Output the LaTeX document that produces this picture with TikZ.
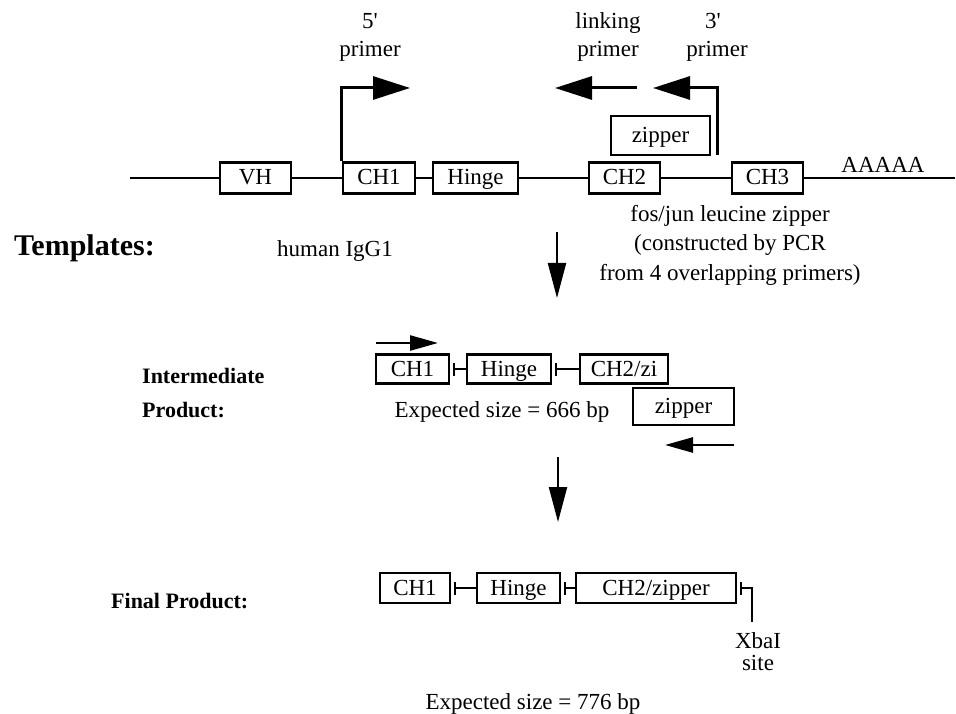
\documentclass[tikz,border=0pt]{standalone}
\usepackage{fontspec}
\setmainfont{Liberation Serif}
\usetikzlibrary{arrows.meta,positioning}
\tikzset{
  genebox/.style={
    draw,
    line width=2.8pt,
    inner sep=0pt,
    minimum height=31pt,
    text height=16pt,
    text depth=2pt,
    font=\fontsize{23}{26}\selectfont
  },
  lbl/.style={inner sep=0pt,font=\fontsize{23}{26}\selectfont},
  headlbl/.style={inner sep=0pt,font=\fontsize{22}{26}\selectfont\bfseries},
  dnaline/.style={line width=2pt},
  linker/.style={line width=2pt,{Bar[width=13pt]}-,shorten <=3pt},
  primerarrow/.style={-{Triangle[length=37pt,width=23pt]},line width=3pt},
  smallprimer/.style={-{Triangle[length=28pt,width=15pt]},line width=2.6pt},
  steparrow/.style={-{Triangle[length=35pt,width=18pt]},line width=2.2pt}
}

\begin{document}
\begin{tikzpicture}[x=1pt,y=-1pt]
  \useasboundingbox (0,0) rectangle (956,714);
  % templates
  \coordinate (lstart) at (130,178);
  \coordinate (lend) at (955,178);
  \node[genebox,minimum width=71pt] (vh) at (255.5,178) {VH};
  \node[genebox,minimum width=72pt] (ch1) at (379,178) {CH1};
  \node[genebox,minimum width=85pt] (hinge) at (475.5,178) {Hinge};
  \node[genebox,minimum width=71pt] (ch2) at (624.5,178) {CH2};
  \node[genebox,minimum width=71pt] (ch3) at (767.5,178) {CH3};
  \node[genebox,minimum width=99pt,minimum height=39pt] (zip) at (660.5,135.5) {zipper};
  \draw[dnaline] (lstart) -- (vh) (vh) -- (ch1) (ch1) -- (hinge)
    (hinge) -- (ch2) (ch2) -- (ch3) (ch3) -- (lend);
  \node[lbl,anchor=base] (polya) at (883,173) {AAAAA};

  % primers
  \coordinate (p5tip) at (410,88);
  \coordinate (p3foot) at (717,155);
  \coordinate (p3tip) at (653,88);
  \coordinate (lkfoot) at (637,88);
  \coordinate (lktip) at (555,88);
  \draw[primerarrow] (ch1.north west) |- (p5tip);
  \draw[primerarrow] (lkfoot) -- (lktip);
  \draw[primerarrow] (p3foot) |- (p3tip);
  \node[lbl,anchor=base] (p5a) at (370,29) {5\textquotesingle};
  \node[lbl,anchor=base] (p5b) at (370,57) {primer};
  \node[lbl,anchor=base] (lka) at (608,29) {linking};
  \node[lbl,anchor=base] (lkb) at (608,57) {primer};
  \node[lbl,anchor=base] (p3a) at (713,29) {3\textquotesingle};
  \node[lbl,anchor=base] (p3b) at (717,57) {primer};

  \node[anchor=base west,inner sep=0pt,font=\fontsize{30}{34}\selectfont\bfseries]
    (templ) at (14,255) {Templates:};
  \node[lbl,anchor=base] (igg) at (335,257) {human IgG1};
  \node[lbl,anchor=base] (fos1) at (730,222) {fos/jun leucine zipper};
  \node[lbl,anchor=base] (fos2) at (730,251) {(constructed by PCR};
  \node[lbl,anchor=base] (fos3) at (730,280) {from 4 overlapping primers)};

  \coordinate (d1a) at (557,232);
  \coordinate (d1b) at (557,298);
  \draw[steparrow] (d1a) -- (d1b);

  % intermediate product
  \node[headlbl,anchor=base west] (inta) at (142,383) {Intermediate};
  \node[headlbl,anchor=base west] (intb) at (142,417) {Product:};
  \node[genebox,minimum width=73pt,minimum height=29pt] (ich1) at (412.5,369) {CH1};
  \node[genebox,minimum width=84pt,minimum height=29pt] (ihinge) at (509,369) {Hinge};
  \node[genebox,minimum width=88pt,minimum height=29pt] (ich2) at (624,369) {CH2/zi};
  \draw[linker] (ich1) -- (ihinge);
  \draw[linker] (ihinge) -- (ich2);
  \node[genebox,minimum width=101pt,minimum height=37pt] (izip) at (683.5,406.5) {zipper};
  \node[lbl,anchor=base] (isize) at (502,417) {Expected size = 666 bp};
  \coordinate (ifwd0) at (376,343);
  \coordinate (ifwd1) at (438,343);
  \coordinate (irev0) at (734,445);
  \coordinate (irev1) at (665,445);
  \draw[smallprimer] (ifwd0) -- (ifwd1);
  \draw[smallprimer] (irev0) -- (irev1);

  \coordinate (d2a) at (558,457);
  \coordinate (d2b) at (558,522);
  \draw[steparrow] (d2a) -- (d2b);

  % final product
  \node[headlbl,anchor=base west] (fin) at (111,608) {Final Product:};
  \node[genebox,minimum width=70pt,minimum height=30pt] (fch1) at (415,588) {CH1};
  \node[genebox,minimum width=83pt,minimum height=30pt] (fhinge) at (518.5,588) {Hinge};
  \node[genebox,minimum width=160pt,minimum height=30pt] (fch2) at (656,588) {CH2/zipper};
  \draw[linker] (fch1) -- (fhinge);
  \draw[linker] (fhinge) -- (fch2);
  \coordinate (xbafoot) at (752,622);
  \draw[linker] (fch2.east) -| (xbafoot);
  \node[lbl,anchor=base] (xba) at (758,648) {XbaI};
  \node[lbl,anchor=base] (site) at (758,670) {site};
  \node[lbl,anchor=base] (fsize) at (533,709) {Expected size = 776 bp};
\end{tikzpicture}
\end{document}
